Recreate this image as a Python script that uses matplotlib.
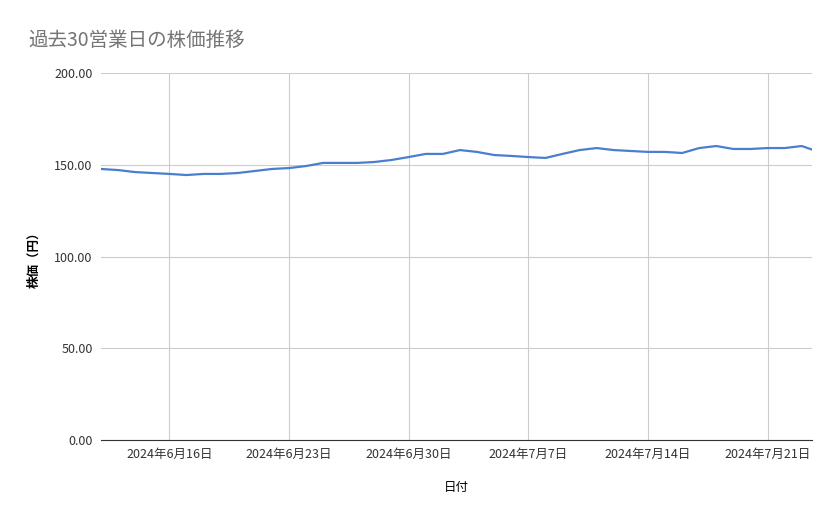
import matplotlib.pyplot as plt
import matplotlib.dates as mdates
import numpy as np
import pandas as pd

plt.rcParams['font.family'] = ['Noto Sans CJK JP', 'DejaVu Sans']

dates = pd.date_range('2024-06-12', '2024-07-24', freq='D')
prices = [147.7, 147.1, 146.0, 145.5, 145.0, 144.4, 145.0, 145.0, 145.5, 146.6,
          147.7, 148.2, 149.3, 151.0, 151.0, 151.0, 151.5, 152.6, 154.2, 155.9,
          155.9, 158.0, 157.0, 155.3, 154.8, 154.2, 153.7, 155.9, 158.0, 159.1,
          158.0, 157.5, 157.0, 157.0, 156.4, 159.1, 160.2, 158.6, 158.6, 159.1,
          159.1, 160.2, 157.0]
ticks = pd.to_datetime(['2024-06-16', '2024-06-23', '2024-06-30', '2024-07-07', '2024-07-14', '2024-07-21'])
tick_labels = ['2024年6月16日', '2024年6月23日', '2024年6月30日', '2024年7月7日', '2024年7月14日', '2024年7月21日']

fig = plt.figure(figsize=(8.39, 5.19), dpi=100)
ax = fig.add_axes([101/839, 1-440/519, 711/839, 367/519])
ax.plot(dates, prices, color='#4a7fcf', lw=1.6)
ax.set_xlim(pd.Timestamp('2024-06-12'), pd.Timestamp('2024-06-12') + pd.Timedelta(days=41.6))
ax.set_ylim(0, 200)
ax.set_yticks([0, 50, 100, 150, 200])
ax.set_yticklabels([f'{v:.2f}' for v in [0, 50, 100, 150, 200]])
ax.set_xticks(ticks)
ax.set_xticklabels(tick_labels)
ax.grid(True, color='#cccccc', lw=0.8)
for s in ['top', 'right', 'left']:
    ax.spines[s].set_visible(False)
ax.spines['bottom'].set_color('#333333')
ax.tick_params(length=0, labelsize=9, colors='#333333', pad=6)
ax.set_xlabel('日付', fontsize=9, labelpad=14)
ax.set_ylabel('株価（円）', fontsize=9, labelpad=10, fontweight='bold')
fig.text(28/839, 1-40/519, '過去30営業日の株価推移', fontsize=14, color='#757575', va='center')
fig.savefig('out.png')
